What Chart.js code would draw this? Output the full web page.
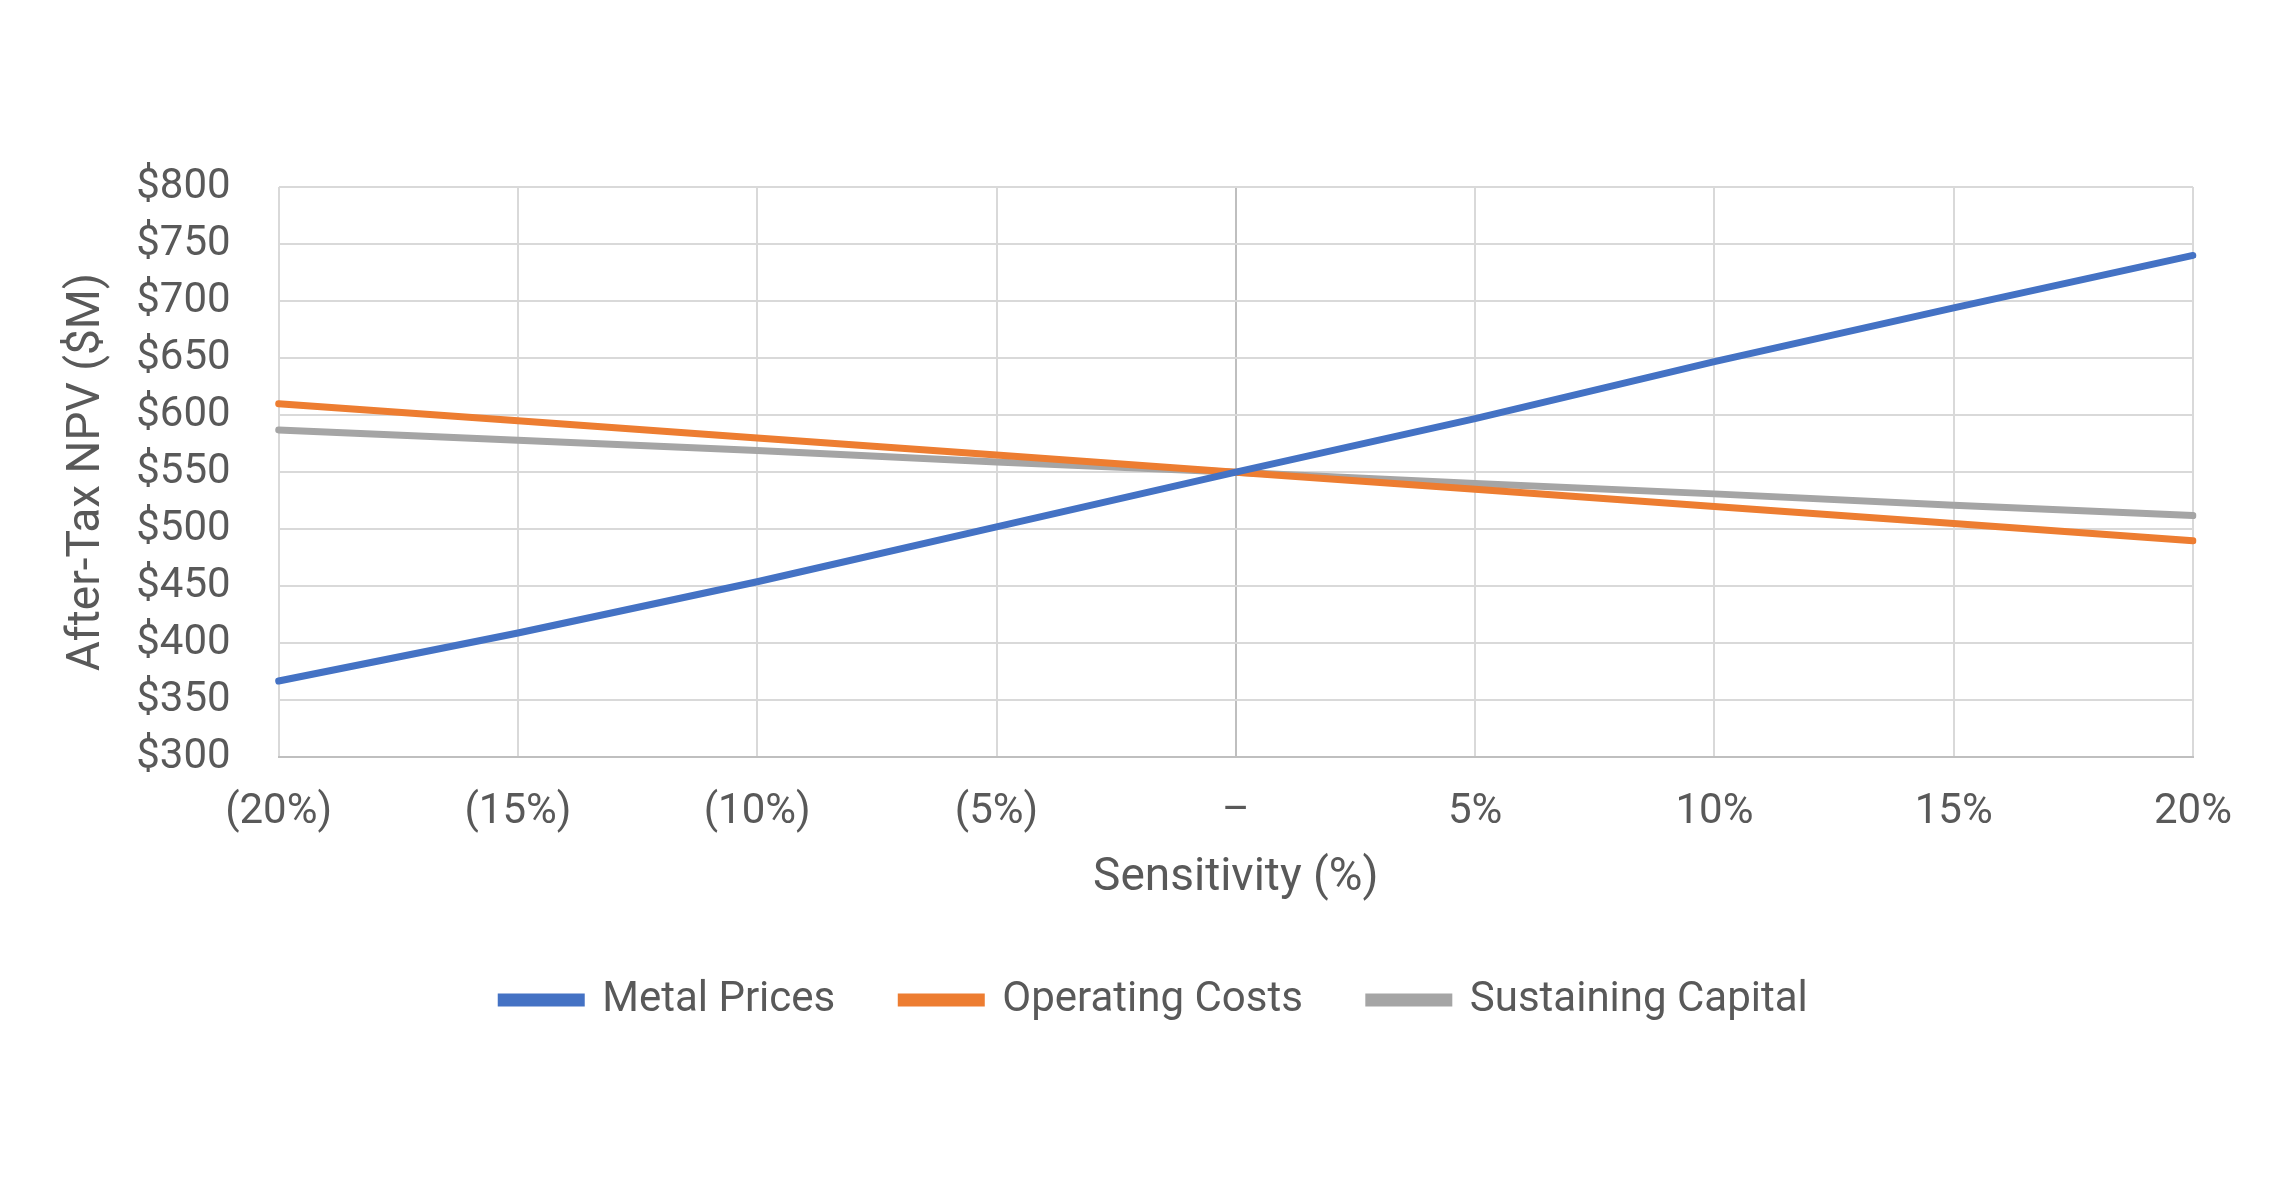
<!DOCTYPE html>
<html>
<head>
<meta charset="utf-8">
<script src="https://cdn.jsdelivr.net/npm/chart.js@4.4.1/dist/chart.umd.min.js"></script>
<style>
  html, body { margin: 0; padding: 0; background: #fff; }
  #wrap { width: 2293px; height: 1201px; }
</style>
</head>
<body>
<div id="wrap"><canvas id="npvChart"></canvas></div>
<script>
// sensitivity steps and NPV values ($M)
const sensitivity = ['(20%)', '(15%)', '(10%)', '(5%)', '–', '5%', '10%', '15%', '20%'];
const metalPrices = [367, 409, 454, 502, 550, 597, 647, 694, 740];
const operatingCosts = [610, 595, 580, 565, 550, 535, 520, 505, 490];
const sustainingCapital = [587, 578, 569, 559, 550, 540, 531, 521, 512];
const yTicks = [300, 350, 400, 450, 500, 550, 600, 650, 700, 750, 800];

const textColor = '#595959';
const fontFamily = 'Roboto, "Open Sans", sans-serif';

function lineSet(label, data, color) {
    return {
        label,
        data,
        borderColor: color,
        backgroundColor: color,
        borderWidth: 7,
        borderCapStyle: 'round',
        pointRadius: 0,
        tension: 0,
        fill: false
    };
}

// legend in the original sits a bit right of the canvas centre
const legendShift = {
    id: 'legendShift',
    afterLayout(chart) {
        const lg = chart.legend;
        if (!lg) return;
        lg.left += 28;
        lg.right += 28;
    }
};

const ctx = document.getElementById('npvChart');

new Chart(ctx.getContext('2d'), {
    type: 'line',
    data: {
        labels: sensitivity,
        datasets: [
            lineSet('Metal Prices', metalPrices, '#4472C4'),
            lineSet('Operating Costs', operatingCosts, '#ED7D31'),
            lineSet('Sustaining Capital', sustainingCapital, '#A5A5A5')
        ]
    },
    options: {
        responsive: true,
        maintainAspectRatio: false,
        animation: false,
        layout: { padding: { top: 187, right: 100, bottom: 170, left: 60 } },
        plugins: {
            legend: {
                position: 'bottom',
                labels: {
                    color: textColor,
                    font: { family: fontFamily, size: 42 },
                    boxWidth: 80,
                    boxHeight: 6,
                    padding: 66
                }
            },
            tooltip: { enabled: false }
        },
        scales: {
            x: {
                type: 'category',
                offset: false,
                grid: {
                    drawTicks: true,
                    tickLength: 30,
                    tickColor: 'rgba(0,0,0,0)',
                    lineWidth: 2,
                    color: c => c.index === 4 ? '#BFBFBF' : '#D9D9D9'
                },
                border: { display: true, color: '#BFBFBF', width: 2 },
                ticks: {
                    color: textColor,
                    font: { family: fontFamily, size: 42 },
                    padding: 0,
                    maxRotation: 0,
                    autoSkip: false
                },
                title: {
                    display: true,
                    text: 'Sensitivity (%)',
                    color: textColor,
                    font: { family: fontFamily, size: 46 },
                    padding: { top: 13, bottom: 7 }
                }
            },
            y: {
                min: yTicks[0],
                max: yTicks[yTicks.length - 1],
                afterBuildTicks: axis => { axis.ticks = yTicks.map(v => ({ value: v })); },
                grid: {
                    drawTicks: true,
                    tickLength: 48,
                    tickColor: 'rgba(0,0,0,0)',
                    lineWidth: 2,
                    color: c => c.index === 0 ? '#BFBFBF' : '#D9D9D9'
                },
                border: { display: false },
                ticks: {
                    color: textColor,
                    font: { family: fontFamily, size: 42 },
                    padding: 0,
                    callback: v => '$' + v
                },
                title: {
                    display: true,
                    text: 'After-Tax NPV ($M)',
                    color: textColor,
                    font: { family: fontFamily, size: 46 },
                    padding: { top: 0, bottom: 21 }
                }
            }
        }
    },
    plugins: [legendShift]
});
</script>
</body>
</html>
